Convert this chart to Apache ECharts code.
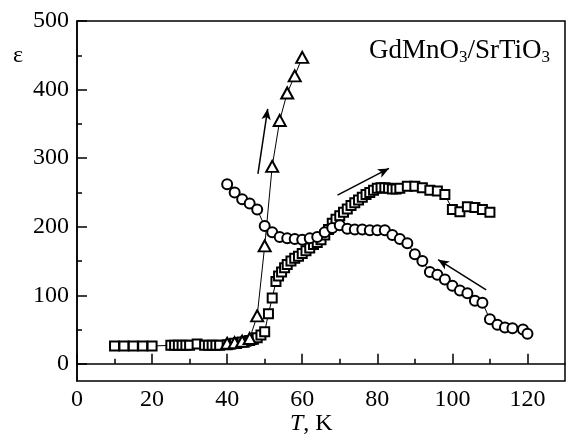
<!DOCTYPE html>
<html>
<head>
<meta charset="utf-8">
<script src="https://cdn.jsdelivr.net/npm/echarts@6/dist/echarts.min.js"></script>
<style>
  html, body { margin: 0; padding: 0; background: #fff; }
  #chart { width: 567px; height: 442px; }
</style>
</head>
<body>
<div id="chart"></div>
<script>
// ==================== Data ====================
// warming run (squares), T in K, epsilon
const warming = [
    [10, 26], [12.5, 26], [15, 26], [17.5, 26], [20, 26],
    [25, 27], [26, 27], [27, 27], [28, 27], [29, 27], [30, 27], [32, 29],
    [34, 27], [35, 27], [36, 27], [37, 27], [38, 27],
    [40, 28], [41, 29], [42, 30], [43, 31], [44, 32], [45, 33], [46, 34], [47, 36],
    [48, 38], [49, 42], [50, 47], [51, 73], [52, 96], [53, 120], [53.7, 128],
    [54.5, 134], [55.3, 140], [56, 145], [57, 150], [58, 154], [59, 157], [60, 161],
    [61, 165], [62, 169], [63, 174], [64, 177], [65, 181], [66, 188], [67, 196],
    [68, 205], [69, 211], [70, 216], [71, 221], [72, 226], [73, 231], [74, 235],
    [75, 239], [76, 243], [77, 247], [78, 250], [79, 253], [80, 256], [81, 257],
    [82, 257], [83, 256], [84, 255], [85, 255], [86, 256], [88, 259], [90, 259],
    [92, 257], [94, 253], [96, 252], [98, 247], [100, 225], [102, 222], [104, 229],
    [106, 228], [108, 225], [110, 221]
];

// cooling run (circles)
const cooling = [
    [40, 262], [42, 250], [44, 240], [46, 234], [48, 225], [50, 201], [52, 192],
    [54, 185], [56, 183], [58, 182], [60, 181], [62, 183], [64, 185], [66, 192],
    [68, 198], [70, 202], [72, 197], [74, 196], [76, 196], [78, 195], [80, 195],
    [82, 195], [84, 188], [86, 182], [88, 176], [90, 160], [92, 150], [94, 134],
    [96, 130], [98, 123], [100, 114], [102, 107], [104, 103], [106, 92], [108, 89],
    [110, 65], [112, 57], [114, 53], [116, 52], [118.8, 50], [120, 44]
];

// third run (triangles)
const third = [
    [40, 30], [42, 31], [44, 33], [46, 37], [48, 70], [50, 172], [52, 288],
    [54, 355], [56, 395], [58, 420], [60, 447]
];

// arrows, [from, to] in data coords
const arrows = [
    [[48.2, 277], [50.8, 372]],
    [[69.4, 246], [83.1, 285]],
    [[109, 108], [96.2, 152]]
];

const xMajor = [0, 20, 40, 60, 80, 100, 120];
const xMinor = [10, 30, 50, 70, 90, 110];
const yMajor = [0, 100, 200, 300, 400, 500];
const yMinor = [50, 150, 250, 350, 450];

// ==================== Chart ====================
const FONT = '"Liberation Serif", "DejaVu Serif", serif';
const chart = echarts.init(document.getElementById('chart'));

const axisCommon = { min: 0, max: 130, type: 'value', splitLine: { show: false } };
const yCommon = { min: -25, max: 500, type: 'value', splitLine: { show: false } };
const lineBlack = { color: '#000', width: 1.5 };

function runSeries(data, symbol, size) {
    return {
        type: 'line',
        data: data,
        symbol: symbol,
        symbolSize: size,
        showAllSymbol: true,
        lineStyle: { color: '#000', width: 1 },
        itemStyle: { color: '#000', borderColor: '#000', borderWidth: 1.6 },
        emphasis: { disabled: true },
        silent: true
    };
}

const sq = runSeries(warming, 'emptyRect', 9);
const ci = runSeries(cooling, 'emptyCircle', 10);
const tr = runSeries(third, 'emptyTriangle', [12, 11]);
tr.markLine = {
    silent: true,
    symbol: ['none', 'arrow'],
    symbolSize: [7, 11],
    label: { show: false },
    lineStyle: { color: '#000', width: 1.5, type: 'solid' },
    data: arrows.map(a => [{ coord: a[0] }, { coord: a[1] }])
};

chart.setOption({
    animation: false,
    backgroundColor: '#fff',
    grid: {
        left: 77, right: 2, top: 21, bottom: 61,
        show: true, borderColor: '#000', borderWidth: 1.5, backgroundColor: 'transparent'
    },
    title: {
        text: '{a|GdMnO}{b|3}{a|/SrTiO}{b|3}',
        right: 12, top: 31,
        textStyle: {
            fontWeight: 'normal',
            rich: {
                a: { fontFamily: FONT, fontSize: 27, fontWeight: 'normal', color: '#000' },
                b: { fontFamily: FONT, fontSize: 17, fontWeight: 'normal', color: '#000', verticalAlign: 'bottom', padding: [13, 0, 0, 0] }
            }
        }
    },
    graphic: [
        { type: 'text', left: 13, top: 44, style: { text: 'ε', font: '24px ' + FONT, fill: '#000' } },
        {
            type: 'text', left: 290, top: 412,
            style: {
                text: '{i|T}{n|, K}',
                rich: {
                    i: { fontFamily: FONT, fontSize: 24, fontStyle: 'italic', fill: '#000' },
                    n: { fontFamily: FONT, fontSize: 24, fill: '#000' }
                }
            }
        }
    ],
    xAxis: [
        Object.assign({}, axisCommon, {
            axisLine: { lineStyle: lineBlack },
            axisTick: { inside: true, length: 10, lineStyle: lineBlack, customValues: xMajor },
            axisLabel: { customValues: xMajor, margin: 7, color: '#000', fontFamily: FONT, fontSize: 24 }
        }),
        Object.assign({}, axisCommon, {
            position: 'bottom',
            axisLine: { show: false },
            axisTick: { inside: true, length: 5, lineStyle: lineBlack, customValues: xMinor },
            axisLabel: { show: false }
        })
    ],
    yAxis: [
        Object.assign({}, yCommon, {
            axisLine: { lineStyle: lineBlack },
            axisTick: { inside: true, length: 10, lineStyle: lineBlack, customValues: yMajor },
            axisLabel: { customValues: yMajor, margin: 8, color: '#000', fontFamily: FONT, fontSize: 24 }
        }),
        Object.assign({}, yCommon, {
            position: 'left',
            axisLine: { show: false },
            axisTick: { inside: true, length: 5, lineStyle: lineBlack, customValues: yMinor },
            axisLabel: { show: false }
        })
    ],
    series: [sq, ci, tr]
});

window.addEventListener('resize', () => chart.resize());
</script>
</body>
</html>
